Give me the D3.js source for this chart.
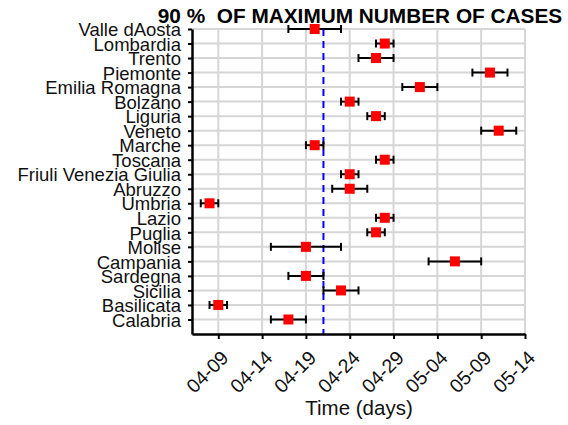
<!DOCTYPE html>
<html>
<head>
<meta charset="utf-8">
<script src="https://cdn.jsdelivr.net/npm/d3@7"></script>
<style>
  body { margin: 0; background: #fff; }
  svg { font-family: "Liberation Sans", Arial, sans-serif; }
</style>
</head>
<body>
<svg id="chart" width="568" height="425"></svg>
<script>
var regions = ['Valle dAosta', 'Lombardia', 'Trento', 'Piemonte', 'Emilia Romagna', 'Bolzano', 'Liguria',
    'Veneto', 'Marche', 'Toscana', 'Friuli Venezia Giulia', 'Abruzzo', 'Umbria', 'Lazio', 'Puglia',
    'Molise', 'Campania', 'Sardegna', 'Sicilia', 'Basilicata', 'Calabria'];
// estimated day at 90% of max cases, with lower / upper bound
var peakDates = ['04-20', '04-28', '04-27', '05-10', '05-02', '04-24', '04-27', '05-11', '04-20', '04-28', '04-24',
    '04-24', '04-08', '04-28', '04-27', '04-19', '05-06', '04-19', '04-23', '04-09', '04-17'];
var lowDates = ['04-17', '04-27', '04-25', '05-08', '04-30', '04-23', '04-26', '05-09', '04-19', '04-27', '04-23',
    '04-22', '04-07', '04-27', '04-26', '04-15', '05-03', '04-17', '04-21', '04-08', '04-15'];
var highDates = ['04-23', '04-29', '04-29', '05-12', '05-04', '04-25', '04-28', '05-13', '04-21', '04-29', '04-25',
    '04-26', '04-09', '04-29', '04-28', '04-23', '05-09', '04-21', '04-25', '04-10', '04-19'];
var tickDates = ['04-09', '04-14', '04-19', '04-24', '04-29', '05-04', '05-09', '05-14'];
var refDate = '04-21';
var xDomain = ['04-06', '05-14'];

var parse = d3.timeParse('%Y-%m-%d');
var toDate = function (s) { return parse('2020-' + s); };

var LEFT = 192, RIGHT = 525, TOP = 29, BOTTOM = 334;

var svg = d3.select('#chart');
var x = d3.scaleTime().domain(xDomain.map(toDate)).range([LEFT, RIGHT]);
var y = d3.scaleLinear().domain([0, regions.length]).range([TOP, BOTTOM]);

// grid
var grid = svg.append('g').attr('stroke', '#d6d6d6').attr('stroke-width', 2);
grid.selectAll('line.v').data(tickDates).enter().append('line')
    .attr('x1', function (d) { return x(toDate(d)); })
    .attr('x2', function (d) { return x(toDate(d)); })
    .attr('y1', TOP).attr('y2', BOTTOM);
grid.selectAll('line.h').data(regions).enter().append('line')
    .attr('x1', LEFT).attr('x2', RIGHT)
    .attr('y1', function (d, i) { return y(i); })
    .attr('y2', function (d, i) { return y(i); });

// reference line
svg.append('line')
    .attr('x1', x(toDate(refDate))).attr('x2', x(toDate(refDate)))
    .attr('y1', TOP).attr('y2', BOTTOM)
    .attr('stroke', '#0000ff').attr('stroke-width', 2).attr('stroke-dasharray', '7,5');

// axes
var xAxis = d3.axisBottom(x)
    .tickValues(tickDates.map(toDate))
    .tickFormat(d3.timeFormat('%m-%d'))
    .tickSize(5).tickSizeOuter(0);
var gx = svg.append('g').attr('transform', 'translate(0,' + BOTTOM + ')').call(xAxis);
gx.select('.domain').attr('stroke', '#000').attr('stroke-width', 2.5);
gx.selectAll('.tick line').attr('stroke', '#000').attr('stroke-width', 2);
gx.selectAll('.tick text')
    .attr('font-size', 19.5).attr('fill', '#111')
    .attr('text-anchor', 'end')
    .attr('x', 0).attr('y', 0).attr('dy', 0)
    .attr('transform', 'translate(11,25) rotate(-45)');

var yAxis = d3.axisLeft(y)
    .tickValues(d3.range(regions.length))
    .tickFormat(function (i) { return regions[i]; })
    .tickSize(4).tickSizeOuter(0);
var gy = svg.append('g').attr('transform', 'translate(' + LEFT + ',0)').call(yAxis);
gy.select('.domain').attr('stroke', '#000').attr('stroke-width', 2.5);
gy.selectAll('.tick line').attr('stroke', '#000').attr('stroke-width', 2);
gy.selectAll('.tick text').attr('font-size', 18.5).attr('fill', '#111').attr('x', -11).attr('dy', '0.36em');

// error bars
var rows = regions.map(function (r, i) {
    return { name: r, i: i, peak: toDate(peakDates[i]), lo: toDate(lowDates[i]), hi: toDate(highDates[i]) };
});
var bars = svg.append('g').attr('stroke', '#000').attr('stroke-width', 2);
bars.selectAll('line.err').data(rows).enter().append('line')
    .attr('x1', function (d) { return x(d.lo); })
    .attr('x2', function (d) { return x(d.hi); })
    .attr('y1', function (d) { return y(d.i); })
    .attr('y2', function (d) { return y(d.i); });
['lo', 'hi'].forEach(function (k) {
    bars.selectAll('line.cap-' + k).data(rows).enter().append('line')
        .attr('x1', function (d) { return x(d[k]); })
        .attr('x2', function (d) { return x(d[k]); })
        .attr('y1', function (d) { return y(d.i) - 4; })
        .attr('y2', function (d) { return y(d.i) + 4; });
});

// markers
svg.append('g').selectAll('rect').data(rows).enter().append('rect')
    .attr('x', function (d) { return x(d.peak) - 5; })
    .attr('y', function (d) { return y(d.i) - 5; })
    .attr('width', 10).attr('height', 10)
    .attr('fill', '#ff0000');

// title and axis label
svg.append('text')
    .attr('x', 360).attr('y', 23)
    .attr('text-anchor', 'middle')
    .attr('font-size', 20.8).attr('font-weight', 'bold')
    .style('white-space', 'pre')
    .text('90 %  OF MAXIMUM NUMBER OF CASES');

svg.append('text')
    .attr('x', 359).attr('y', 415)
    .attr('text-anchor', 'middle')
    .attr('font-size', 20.5).attr('fill', '#111')
    .text('Time (days)');
</script>
</body>
</html>
